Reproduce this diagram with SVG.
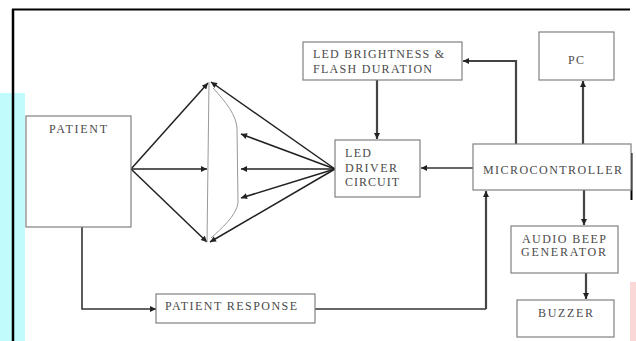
<svg xmlns="http://www.w3.org/2000/svg" width="636" height="341" viewBox="0 0 636 341">
<style>
.box{fill:#fff;stroke:#808080;stroke-width:1.2}
.t{font-family:"Liberation Serif","Times New Roman",serif;font-size:12px;fill:#4a4a4a}
.c{fill:none;stroke:#333;stroke-width:1.6}
.ct{fill:none;stroke:#444;stroke-width:2.2}
.f{fill:none;stroke:#222;stroke-width:1.5}
.thin{fill:none;stroke:#999;stroke-width:1}
</style>
<defs>
<marker id="ah" viewBox="0 0 10 10" refX="10" refY="5" markerWidth="7" markerHeight="6" markerUnits="userSpaceOnUse" orient="auto">
<path d="M0,0 L10,5 L0,10 z" fill="#222"/>
</marker>
</defs>
<rect x="0" y="0" width="636" height="341" fill="#fff"/>
<rect x="0" y="93" width="25" height="248" fill="#c2fbfb"/>
<rect x="630" y="282" width="6" height="59" fill="#fbd8d8"/>
<g id="frame">
<line x1="12" y1="9.5" x2="630" y2="9.5" stroke="#000" stroke-width="2.2"/>
<line x1="13" y1="9" x2="13" y2="341" stroke="#000" stroke-width="2.5"/>
<line x1="631.5" y1="153" x2="631.5" y2="200" stroke="#000" stroke-width="2"/>
</g>
<g id="connectors">
<line class="f" x1="131" y1="169" x2="208" y2="83" marker-end="url(#ah)"/>
<line class="f" x1="131" y1="169" x2="207" y2="169" marker-end="url(#ah)"/>
<line class="f" x1="131" y1="169" x2="207" y2="242" marker-end="url(#ah)"/>
<line class="thin" x1="209" y1="82" x2="207" y2="242" stroke="#555"/>
<path class="thin" d="M213,88 C226,102 236,115 237,128 L238,203 C236,216 222,228 211,238"/>
<line class="f" x1="335" y1="169" x2="211" y2="82" marker-end="url(#ah)"/>
<line class="f" x1="335" y1="169" x2="241" y2="134" marker-end="url(#ah)"/>
<line class="f" x1="335" y1="169" x2="241" y2="169" marker-end="url(#ah)"/>
<line class="f" x1="335" y1="169" x2="241" y2="198" marker-end="url(#ah)"/>
<line class="f" x1="335" y1="169" x2="210" y2="242" marker-end="url(#ah)"/>
<polyline class="c" points="82,227 82,309 156,309" marker-end="url(#ah)"/>
<polyline class="c" points="315,309 486,309"/>
<line class="ct" x1="486" y1="309" x2="486" y2="191" marker-end="url(#ah)"/>
<line class="c" x1="473" y1="168" x2="421" y2="168" marker-end="url(#ah)"/>
<polyline class="ct" points="516,144 516,61 463,61" marker-end="url(#ah)"/>
<line class="ct" x1="583" y1="144" x2="583" y2="81" marker-end="url(#ah)"/>
<line class="ct" x1="377" y1="80" x2="377" y2="139" marker-end="url(#ah)"/>
<line class="ct" x1="584" y1="190" x2="584" y2="225" marker-end="url(#ah)"/>
<line class="ct" x1="586" y1="273" x2="586" y2="299" marker-end="url(#ah)"/>
</g>
<g id="patient">
<rect class="box" x="26" y="116" width="105" height="111"/>
<text class="t" x="49" y="133" textLength="58" lengthAdjust="spacing">PATIENT</text>
</g>
<g id="led-brightness">
<rect class="box" x="303" y="42" width="159" height="38"/>
<text class="t" x="313" y="57.5" textLength="131" lengthAdjust="spacing">LED BRIGHTNESS &amp;</text>
<text class="t" x="313" y="72.5" textLength="119" lengthAdjust="spacing">FLASH DURATION</text>
</g>
<g id="pc">
<rect class="box" x="539" y="32" width="75" height="48"/>
<text class="t" x="568" y="64" textLength="16" lengthAdjust="spacing">PC</text>
</g>
<g id="led-driver">
<rect class="box" x="335" y="140" width="85" height="57"/>
<text class="t" x="345" y="157" textLength="26" lengthAdjust="spacing">LED</text>
<text class="t" x="345" y="171.5" textLength="52" lengthAdjust="spacing">DRIVER</text>
<text class="t" x="345" y="185.5" textLength="54" lengthAdjust="spacing">CIRCUIT</text>
</g>
<g id="microcontroller">
<rect class="box" x="473" y="144" width="158" height="46"/>
<text class="t" x="483" y="174" textLength="139" lengthAdjust="spacing">MICROCONTROLLER</text>
</g>
<g id="audio-beep">
<rect class="box" x="511" y="226" width="107" height="47"/>
<text class="t" x="522" y="243" textLength="84" lengthAdjust="spacing">AUDIO BEEP</text>
<text class="t" x="521" y="256" textLength="85" lengthAdjust="spacing">GENERATOR</text>
</g>
<g id="buzzer">
<rect class="box" x="517" y="300" width="97" height="37"/>
<text class="t" x="538" y="316.5" textLength="55" lengthAdjust="spacing">BUZZER</text>
</g>
<g id="patient-response">
<rect class="box" x="156" y="294" width="159" height="29"/>
<text class="t" x="165" y="310" textLength="132" lengthAdjust="spacing">PATIENT RESPONSE</text>
</g>
</svg>
